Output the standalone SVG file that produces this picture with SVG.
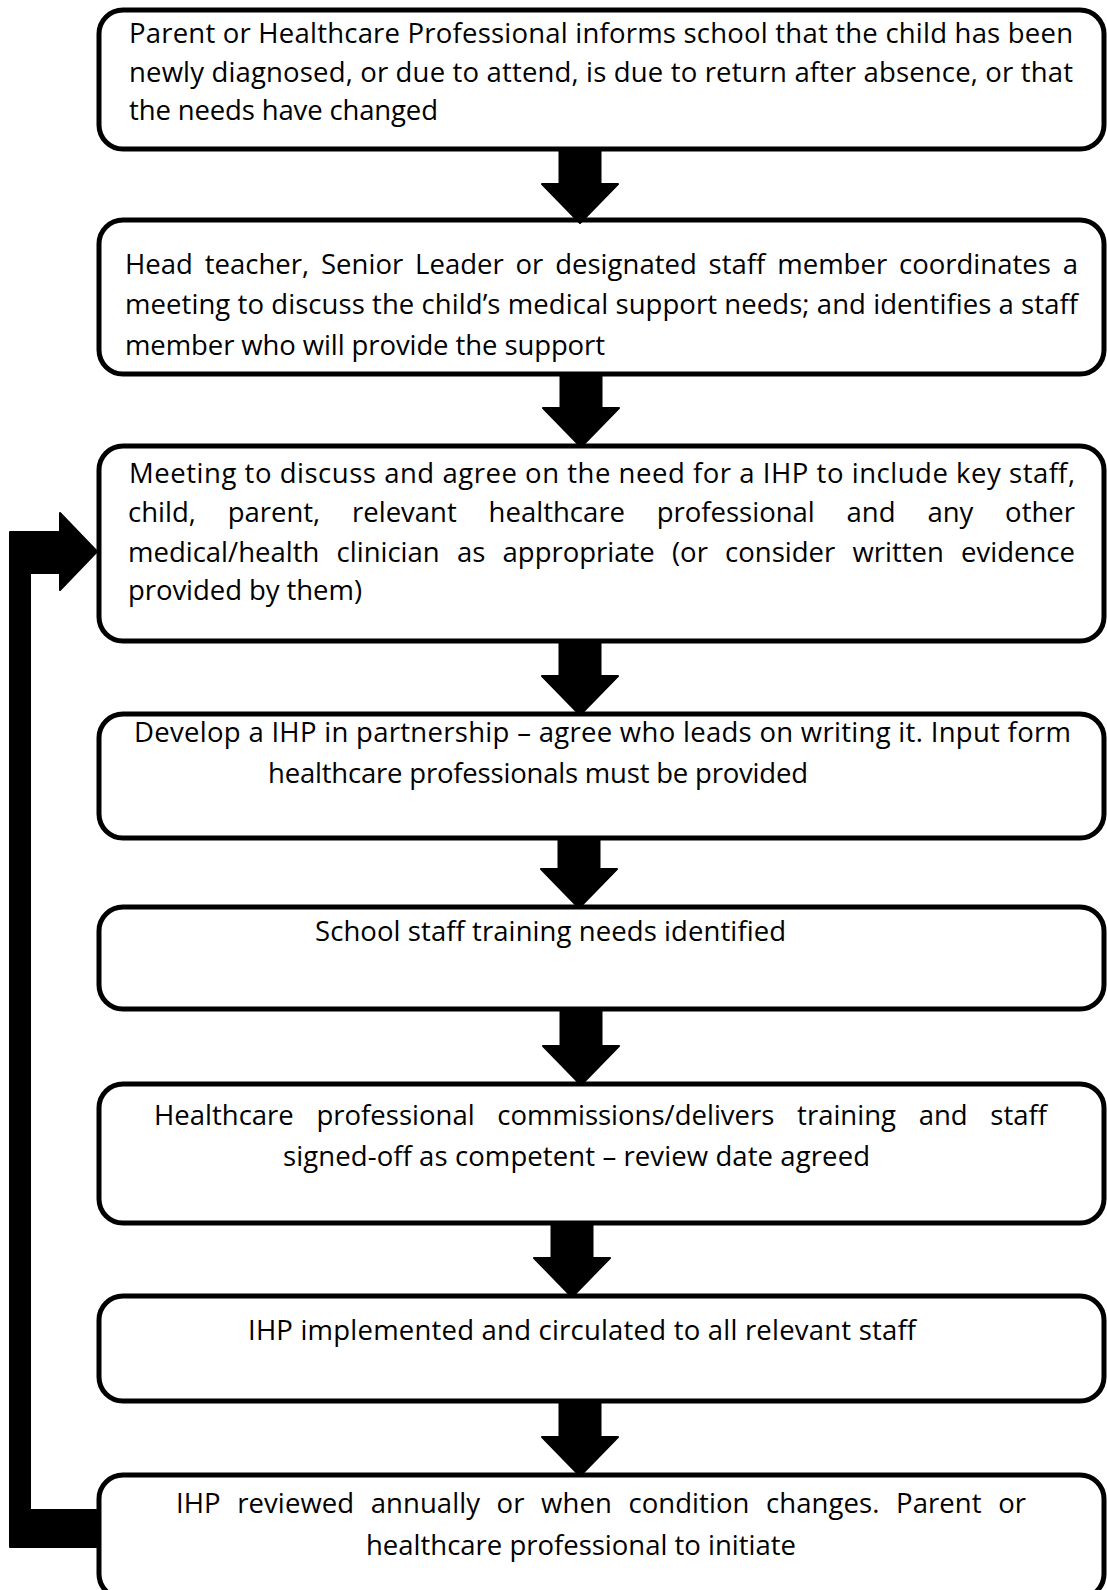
<svg xmlns="http://www.w3.org/2000/svg" width="1107" height="1590" viewBox="0 0 1107 1590">
<style>
.box{fill:#fff;stroke:#000;stroke-width:5}
.t{font-family:"Open Sans","Noto Sans","DejaVu Sans",sans-serif;font-size:27.5px;fill:#000}
.arr{fill:#000;stroke:#000;stroke-width:2;stroke-linejoin:round}
</style>
<rect width="1107" height="1590" fill="#fff"/>
<g id="node1">
<rect class="box" x="99" y="10" width="1005" height="139" rx="24"/>
<text class="t"><tspan x="129" y="43" textLength="944" lengthAdjust="spacing">Parent or Healthcare Professional informs school that the child has been</tspan><tspan x="129" y="82" textLength="944" lengthAdjust="spacing">newly diagnosed, or due to attend, is due to return after absence, or that</tspan><tspan x="129" y="120" textLength="309" lengthAdjust="spacing">the needs have changed</tspan></text>
</g>
<g id="node2">
<rect class="box" x="99" y="220" width="1005" height="154" rx="24"/>
<text class="t"><tspan x="125" y="274" textLength="953" lengthAdjust="spacing" word-spacing="4.7">Head teacher, Senior Leader or designated staff member coordinates a</tspan><tspan x="125" y="314" textLength="953" lengthAdjust="spacing">meeting to discuss the child’s medical support needs; and identifies a staff</tspan><tspan x="125" y="355" textLength="480" lengthAdjust="spacing">member who will provide the support</tspan></text>
</g>
<g id="node3">
<rect class="box" x="99" y="446" width="1005" height="195" rx="24"/>
<text class="t"><tspan x="129" y="483" textLength="946" lengthAdjust="spacing">Meeting to discuss and agree on the need for a IHP to include key staff,</tspan><tspan x="128" y="522" textLength="947" lengthAdjust="spacing" word-spacing="24.7">child, parent, relevant healthcare professional and any other</tspan><tspan x="128" y="562" textLength="947" lengthAdjust="spacing" word-spacing="10.1">medical/health clinician as appropriate (or consider written evidence</tspan><tspan x="128" y="600" textLength="234" lengthAdjust="spacing">provided by them)</tspan></text>
</g>
<g id="node4">
<rect class="box" x="99" y="714" width="1005" height="124" rx="24"/>
<text class="t"><tspan x="134" y="742" textLength="937" lengthAdjust="spacing">Develop a IHP in partnership – agree who leads on writing it. Input form</tspan><tspan x="268" y="783" textLength="540" lengthAdjust="spacing">healthcare professionals must be provided</tspan></text>
</g>
<g id="node5">
<rect class="box" x="99" y="907" width="1005" height="102" rx="24"/>
<text class="t" x="315" y="941" textLength="471" lengthAdjust="spacing">School staff training needs identified</text>
</g>
<g id="node6">
<rect class="box" x="99" y="1084" width="1005" height="139" rx="24"/>
<text class="t"><tspan x="154" y="1125" textLength="893" lengthAdjust="spacing" word-spacing="15.5">Healthcare professional commissions/delivers training and staff</tspan><tspan x="283" y="1166" textLength="587" lengthAdjust="spacing">signed-off as competent – review date agreed</tspan></text>
</g>
<g id="node7">
<rect class="box" x="99" y="1296" width="1005" height="105" rx="24"/>
<text class="t" x="248" y="1340" textLength="668" lengthAdjust="spacing">IHP implemented and circulated to all relevant staff</text>
</g>
<g id="node8">
<rect class="box" x="99" y="1475" width="1005" height="123" rx="24"/>
<text class="t"><tspan x="176" y="1513" textLength="850" lengthAdjust="spacing" word-spacing="9.4">IHP reviewed annually or when condition changes. Parent or</tspan><tspan x="366" y="1555" textLength="430" lengthAdjust="spacing">healthcare professional to initiate</tspan></text>
</g>
<g id="connectors">
<path class="arr" d="M559.5 149 H600.5 V184 H618 L580 223 L542 184 H559.5 Z"/>
<path class="arr" d="M560.5 374 H601.5 V408 H619 L581 447 L543 408 H560.5 Z"/>
<path class="arr" d="M559.5 641 H600.5 V676 H618 L580 715 L542 676 H559.5 Z"/>
<path class="arr" d="M558.5 838 H599.5 V869 H617 L579 908 L541 869 H558.5 Z"/>
<path class="arr" d="M560.5 1009 H601.5 V1046 H619 L581 1085 L543 1046 H560.5 Z"/>
<path class="arr" d="M551.5 1223 H592.5 V1258 H610 L572 1297 L534 1258 H551.5 Z"/>
<path class="arr" d="M559.5 1401 H600.5 V1437 H618 L580 1476 L542 1437 H559.5 Z"/>
<path class="arr" d="M10 532 H60 V513 L97 551.5 L60 590 V573 H30 V1510 H97 V1547 H10 Z"/>
</g>
</svg>
